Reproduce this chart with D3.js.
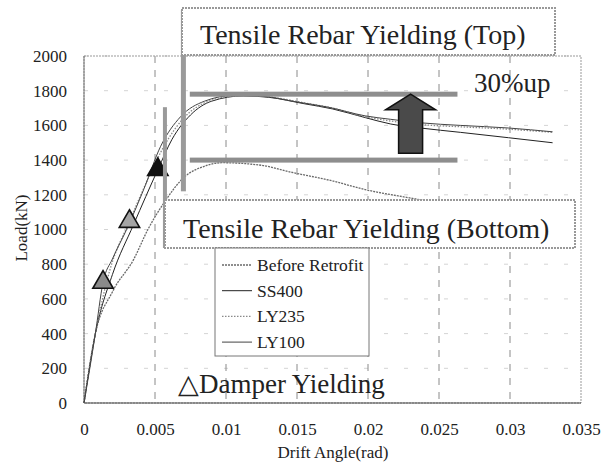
<!DOCTYPE html>
<html><head><meta charset="utf-8">
<script src="https://cdn.jsdelivr.net/npm/d3@7"></script>
<style>
html,body{margin:0;padding:0;background:#fff;}
svg text{font-family:"Liberation Serif","Times New Roman",serif !important;fill:#222;}
</style></head>
<body><svg id="c" width="609" height="466" font-family="Liberation Serif"></svg>
<script>
// ---- data ----
const xTicks = [0, 0.005, 0.01, 0.015, 0.02, 0.025, 0.03, 0.035];
const xTickLabels = ["0", "0.005", "0.01", "0.015", "0.02", "0.025", "0.03", "0.035"];
const yTicks = [0, 200, 400, 600, 800, 1000, 1200, 1400, 1600, 1800, 2000];
const seriesNames = ["Before Retrofit", "SS400", "LY235", "LY100"];
const beforeRetrofit = [[0,0],[0.0008,400],[0.002,640],[0.0035,828],[0.0045,1000],[0.0056,1150],[0.0071,1305],[0.0085,1365],[0.0097,1385],[0.0125,1370],[0.0146,1330],[0.0175,1280],[0.0198,1230],[0.0228,1184],[0.026,1140],[0.03,1090],[0.033,1060]];
const ss400 = [[0,0],[0.0008,400],[0.002,740],[0.0035,1030],[0.0052,1345],[0.0062,1520],[0.0075,1660],[0.009,1740],[0.0112,1770],[0.013,1762],[0.0155,1725],[0.0175,1695],[0.0198,1645],[0.0216,1608],[0.0237,1585],[0.0265,1560],[0.0299,1529],[0.033,1500]];
const ly235 = [[0,0],[0.0008,400],[0.0018,760],[0.0032,1046],[0.0045,1290],[0.0057,1490],[0.007,1640],[0.0088,1740],[0.011,1772],[0.013,1765],[0.0155,1730],[0.0175,1700],[0.0198,1650],[0.0216,1625],[0.0237,1605],[0.0265,1592],[0.0299,1578],[0.033,1560]];
const ly100 = [[0,0],[0.0008,400],[0.00134,695],[0.002,830],[0.003,1000],[0.0042,1230],[0.0054,1480],[0.0068,1650],[0.0085,1740],[0.0105,1772],[0.0125,1768],[0.015,1735],[0.0172,1705],[0.0198,1655],[0.0216,1635],[0.0237,1615],[0.0265,1600],[0.0299,1585],[0.033,1563]];
const damperYield = [[0.00134, 695], [0.0032, 1046], [0.0052, 1345]];
const damperFill = ["#8a8a8a", "#a5a5a5", "#111"];
const levelLoads = [1400, 1780];          // before / after peak levels
const levelSpan = [0.00745, 0.0263];       // drift range of level bars
const arrowDrift = 0.023;

// ---- setup ----
const svg = d3.select("#c");
const x = d3.scaleLinear().domain([0, 0.035]).range([84, 581]);
const y = d3.scaleLinear().domain([0, 2000]).range([403, 56]);

// horizontal faint gridlines
svg.append("g").selectAll("line").data(yTicks.slice(1)).join("line")
  .attr("x1", x(0)).attr("x2", x(0.035)).attr("y1", d => y(d)).attr("y2", d => y(d))
  .attr("stroke", "#d4d4d4").attr("stroke-width", 1).attr("stroke-dasharray", "4,16");
// vertical dashed gridlines
svg.append("g").selectAll("line").data(xTicks.slice(1, -1)).join("line")
  .attr("x1", d => x(d)).attr("x2", d => x(d)).attr("y1", y(2000)).attr("y2", y(0))
  .attr("stroke", "#8a8a8a").attr("stroke-width", 1).attr("stroke-dasharray", "7,7");
// plot frame
svg.append("rect").attr("x", x(0)).attr("y", y(2000)).attr("width", x(0.035) - x(0)).attr("height", y(0) - y(2000))
  .attr("fill", "none").attr("stroke", "#999").attr("stroke-width", 1).attr("stroke-dasharray", "2,1");
svg.append("line").attr("x1", x(0)).attr("x2", x(0)).attr("y1", y(2000)).attr("y2", y(0)).attr("stroke", "#777");
svg.append("line").attr("x1", x(0)).attr("x2", x(0.035)).attr("y1", y(0)).attr("y2", y(0)).attr("stroke", "#444");

// axes
const xa = svg.append("g").attr("transform", `translate(0,${y(0)})`)
  .call(d3.axisBottom(x).tickValues(xTicks).tickFormat((d, i) => xTickLabels[i]).tickSize(0).tickPadding(20));
xa.attr("font-family", "Liberation Serif").attr("font-size", 17);
xa.select(".domain").remove();
xa.selectAll("text").attr("fill", "#333");
const ya = svg.append("g").attr("transform", `translate(${x(0)},0)`)
  .call(d3.axisLeft(y).tickValues(yTicks).tickFormat(d3.format("d")).tickSize(0).tickPadding(17));
ya.attr("font-family", "Liberation Serif").attr("font-size", 17);
ya.select(".domain").remove();
ya.selectAll("text").attr("fill", "#333");

svg.append("text").attr("x", 333).attr("y", 458).attr("text-anchor", "middle").attr("font-size", 17).text("Drift Angle(rad)");
svg.append("text").attr("transform", "translate(27,228) rotate(-90)").attr("text-anchor", "middle").attr("font-size", 17).text("Load(kN)");

// curves
const line = d3.line().x(d => x(d[0])).y(d => y(d[1])).curve(d3.curveMonotoneX);
const styles = [
  {data: beforeRetrofit, stroke: "#6a6a6a", w: 1.3, dash: "2,1"},
  {data: ss400, stroke: "#222", w: 1, dash: null},
  {data: ly235, stroke: "#8a8a8a", w: 1.3, dash: "1.5,1.5"},
  {data: ly100, stroke: "#444", w: 1, dash: null}
];
svg.append("g").selectAll("path").data(styles).join("path")
  .attr("d", d => line(d.data)).attr("fill", "none")
  .attr("stroke", d => d.stroke).attr("stroke-width", d => d.w)
  .attr("stroke-dasharray", d => d.dash);

// damper-yield triangles
svg.append("g").selectAll("path").data(damperYield).join("path")
  .attr("transform", d => `translate(${x(d[0])},${y(d[1])})`)
  .attr("d", d3.symbol(d3.symbolTriangle, 180))
  .attr("fill", (d, i) => damperFill[i]).attr("stroke", "#111").attr("stroke-width", 1.6);

// callout leader bars
svg.append("rect").attr("x", x(0.0070) - 2.5).attr("y", 10).attr("width", 5).attr("height", y(1220) - 10).attr("fill", "#9a9a9a");
svg.append("rect").attr("x", x(0.0057) - 2).attr("y", y(1705)).attr("width", 4).attr("height", 248 - y(1705)).attr("fill", "#9a9a9a");

// level bars
svg.append("g").selectAll("rect").data(levelLoads).join("rect")
  .attr("x", x(levelSpan[0])).attr("y", d => y(d) - 2.5)
  .attr("width", x(levelSpan[1]) - x(levelSpan[0])).attr("height", 5).attr("fill", "#8e8e8e");

// arrow
const ax = x(arrowDrift), tip = y(levelLoads[1]), headBase = y(1690), tail = y(1440);
svg.append("path").attr("d",
  `M${ax},${tip} L${ax + 25},${headBase} L${ax + 12},${headBase} L${ax + 12},${tail} L${ax - 12},${tail} L${ax - 12},${headBase} L${ax - 25},${headBase} Z`)
  .attr("fill", "#4a4a4a").attr("stroke", "#111").attr("stroke-width", 1.5).attr("stroke-linejoin", "miter");

// top box
svg.append("rect").attr("x", 182).attr("y", 8).attr("width", 373).attr("height", 47)
  .attr("fill", "#fff").attr("stroke", "#999").attr("stroke-width", 2).attr("stroke-dasharray", "2,1");
svg.append("text").attr("x", 200).attr("y", 44).attr("font-size", 28).text("Tensile Rebar Yielding (Top)");
// bottom box
svg.append("rect").attr("x", 165).attr("y", 200).attr("width", 410).attr("height", 48)
  .attr("fill", "#fff").attr("stroke", "#999").attr("stroke-width", 2).attr("stroke-dasharray", "2,1");
svg.append("text").attr("x", 183).attr("y", 238).attr("font-size", 28).text("Tensile Rebar Yielding (Bottom)");

// 30%up and damper label
svg.append("text").attr("x", 474).attr("y", 92).attr("font-size", 27).text("30%up");
svg.append("text").attr("x", 178).attr("y", 393).attr("font-size", 27).text("△Damper Yielding");

// legend
const lg = svg.append("g");
lg.append("rect").attr("x", 215).attr("y", 248).attr("width", 154).attr("height", 108)
  .attr("fill", "#fff").attr("stroke", "#777").attr("stroke-width", 1);
const rows = lg.selectAll("g").data(styles).join("g").attr("transform", (d, i) => `translate(0,${265 + i * 25.7})`);
rows.append("line").attr("x1", 222).attr("x2", 252).attr("y1", 0).attr("y2", 0)
  .attr("stroke", d => d.stroke).attr("stroke-width", d => d.w).attr("stroke-dasharray", d => d.dash);
rows.append("text").attr("x", 257).attr("y", 6).attr("font-size", 17.5).text((d, i) => seriesNames[i]);
</script></body></html>
